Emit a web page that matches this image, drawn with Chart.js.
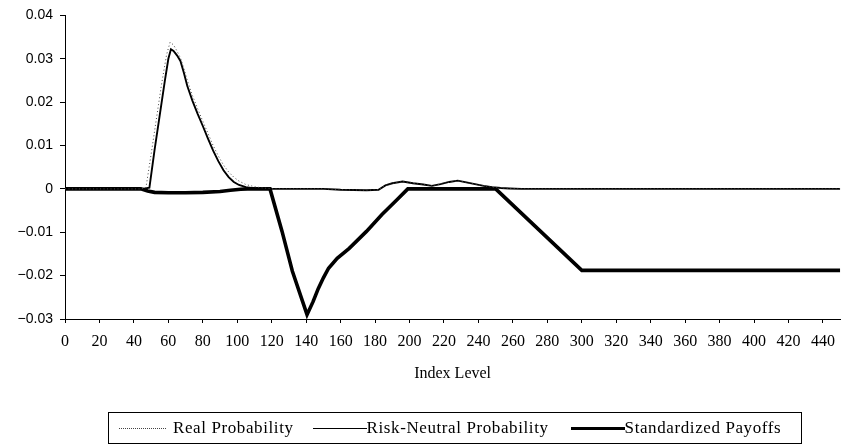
<!DOCTYPE html>
<html>
<head>
<meta charset="utf-8">
<script src="https://cdn.jsdelivr.net/npm/chart.js@4.4.0/dist/chart.umd.min.js"></script>
<style>
  html, body { margin: 0; padding: 0; background: #fff; }
  #wrap { position: relative; width: 844px; height: 447px; }
  #legend {
    position: absolute; left: 108px; top: 412px; width: 692px; height: 30px;
    border: 1px solid #000; box-sizing: content-box;
    display: flex; align-items: center;
    font-family: 'Liberation Serif', 'DejaVu Serif', serif; font-size: 17px;
    letter-spacing: 0.6px; color: #000; white-space: nowrap;
  }
  #legend .item { display: flex; align-items: center; }
  #legend .swatch { display: inline-block; height: 0; }
</style>
</head>
<body>
<div id="wrap">
  <canvas id="payoffChart"></canvas>
  <div id="legend"></div>
</div>
<script>
// index level breakpoints and values
const realX = [0, 44, 47, 50, 53, 56, 59, 61, 63, 65, 67, 69, 71, 74, 77, 80, 83, 86, 89, 92, 95, 98, 101, 105, 110, 115, 122, 150, 160, 175, 182, 186, 190, 196, 202, 208, 213, 218, 223, 228, 233, 238, 243, 248, 253, 258, 265, 450];
const realY = [0, 0, 0.0003, 0.008, 0.016, 0.024, 0.031, 0.0338, 0.0332, 0.0318, 0.0302, 0.0278, 0.025, 0.0215, 0.0185, 0.0156, 0.0128, 0.01, 0.0076, 0.0055, 0.0039, 0.0027, 0.0018, 0.001, 0.0005, 0.0002, 0, 0, -0.0002, -0.0003, -0.0002, 0.0008, 0.0013, 0.0017, 0.0013, 0.001, 0.0007, 0.0011, 0.0016, 0.0019, 0.0015, 0.0011, 0.0007, 0.0004, 0.0002, 0.0001, 0, 0];

const rnX = [0, 45, 49, 52, 55, 58, 60, 61.5, 63, 65, 67, 69, 71, 74, 77, 80, 83, 86, 89, 92, 95, 98, 101, 105, 110, 120, 150, 160, 175, 182, 186, 190, 196, 202, 208, 213, 218, 223, 228, 233, 238, 243, 248, 253, 258, 265, 450];
const rnY = [0, 0, 0.0003, 0.009, 0.017, 0.025, 0.03, 0.0322, 0.0318, 0.0308, 0.0295, 0.0268, 0.0237, 0.0203, 0.0173, 0.0145, 0.0116, 0.0088, 0.0064, 0.0043, 0.0027, 0.0016, 0.0009, 0.0004, 0.0001, 0, 0, -0.0002, -0.0003, -0.0002, 0.0008, 0.0013, 0.0017, 0.0013, 0.001, 0.0007, 0.0011, 0.0016, 0.0019, 0.0015, 0.0011, 0.0007, 0.0004, 0.0002, 0.0001, 0, 0];

const payX = [0, 44, 48, 52, 60, 70, 80, 90, 96, 102, 106, 119, 126, 132, 140.5, 144, 147, 150, 153, 158, 165, 175, 184, 193, 199, 250, 300, 450];
const payY = [0, 0, -0.0005, -0.0008, -0.0009, -0.0009, -0.0008, -0.0006, -0.0003, -0.0001, 0, 0, -0.0098, -0.019, -0.029, -0.026, -0.023, -0.0205, -0.0183, -0.016, -0.0137, -0.0098, -0.0059, -0.0024, 0, 0, -0.0188, -0.0188];

const xTicks = [0, 20, 40, 60, 80, 100, 120, 140, 160, 180, 200, 220, 240, 260, 280, 300, 320, 340, 360, 380, 400, 420, 440];
const yTicks = [-0.03, -0.02, -0.01, 0, 0.01, 0.02, 0.03, 0.04];

const pts = (xs, ys) => xs.map((x, i) => ({ x: x, y: ys[i] }));

const SERIF = "'Liberation Serif', 'DejaVu Serif', serif";
const SANS = "'Liberation Sans', Arial, sans-serif";

const chart = new Chart(document.getElementById("payoffChart"), {
  type: "line",
  data: {
    datasets: [
      {
        label: "Real Probability",
        data: pts(realX, realY),
        borderColor: "#444",
        borderWidth: 1,
        borderDash: [1, 2.5],
        pointRadius: 0,
        tension: 0
      },
      {
        label: "Risk-Neutral Probability",
        data: pts(rnX, rnY),
        borderColor: "#000",
        borderWidth: 1.9,
        pointRadius: 0,
        tension: 0
      },
      {
        label: "Standardized Payoffs",
        data: pts(payX, payY),
        borderColor: "#000",
        borderWidth: 3.6,
        pointRadius: 0,
        tension: 0
      }
    ]
  },
  options: {
    responsive: true,
    maintainAspectRatio: false,
    animation: false,
    layout: { padding: { top: 15, right: 1, bottom: 64, left: 0 } },
    plugins: {
      tooltip: { enabled: false },
      legend: { display: false }
    },
    scales: {
      x: {
        type: "linear",
        min: 0,
        max: 450,
        afterBuildTicks: axis => { axis.ticks = xTicks.map(v => ({ value: v })); },
        afterFit: axis => { axis.height = 64; },
        ticks: {
          color: "#000",
          autoSkip: false,
          maxRotation: 0,
          padding: 9,
          font: { family: SERIF, size: 16 }
        },
        grid: { display: true, drawOnChartArea: false, tickLength: 4, color: "#000" },
        border: { color: "#000", width: 1 },
        title: {
          display: true,
          text: "Index Level",
          color: "#000",
          padding: { top: 0, bottom: 0 },
          font: { family: SERIF, size: 16 }
        }
      },
      y: {
        min: -0.03,
        max: 0.04,
        afterBuildTicks: axis => { axis.ticks = yTicks.map(v => ({ value: v })); },
        afterFit: axis => { axis.width = 65; },
        ticks: {
          color: "#000",
          padding: 7,
          font: { family: SANS, size: 14 },
          callback: v => {
            if (Math.abs(v) < 1e-9) return "0";
            return (v < 0 ? "\u2212" : "") + Math.abs(v).toFixed(2);
          }
        },
        grid: { display: true, drawOnChartArea: false, tickLength: 5, color: "#000" },
        border: { color: "#000", width: 1 }
      }
    }
  }
});

// boxed legend under the axis title, built from the datasets
const swatchW = [47, 54, 54];
const textGap = [7, 0, 0];
const itemGap = [10, 19, 22];
const legendEl = document.getElementById("legend");
chart.data.datasets.forEach((ds, i) => {
  const item = document.createElement("span");
  item.className = "item";
  item.style.marginLeft = itemGap[i] + "px";
  const sw = document.createElement("span");
  sw.className = "swatch";
  sw.style.width = swatchW[i] + "px";
  sw.style.marginRight = textGap[i] + "px";
  const style = ds.borderDash ? "dotted" : "solid";
  sw.style.borderTop = ds.borderWidth + "px " + style + " " + ds.borderColor;
  const txt = document.createElement("span");
  txt.textContent = ds.label;
  item.appendChild(sw);
  item.appendChild(txt);
  legendEl.appendChild(item);
});
</script>
</body>
</html>
